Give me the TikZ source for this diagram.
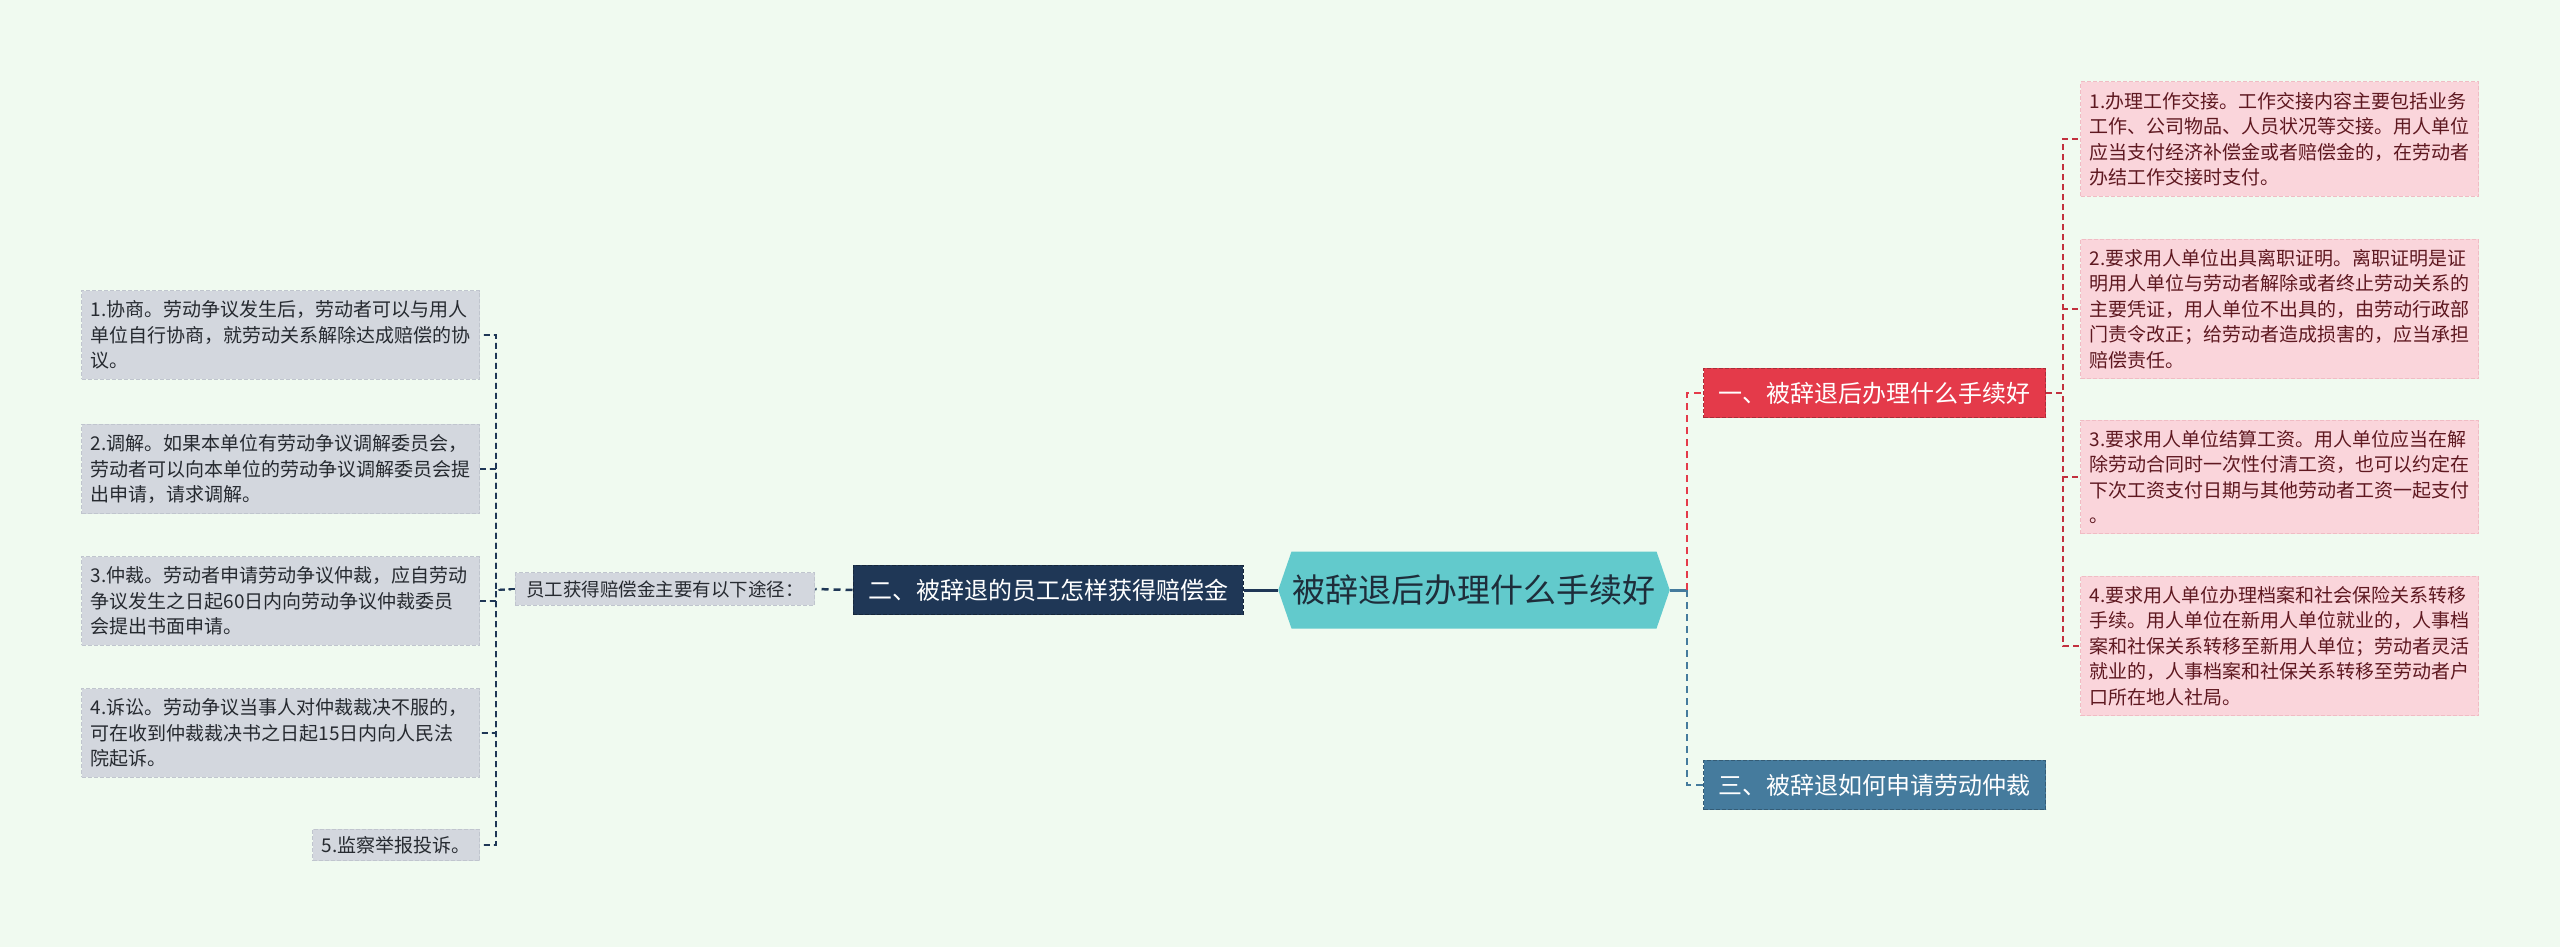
\documentclass[tikz,border=0pt]{standalone}
\usepackage{fontspec}
\setmainfont{Noto Sans CJK SC}
\usetikzlibrary{shapes.symbols}

\definecolor{bgmint}{HTML}{F0FAF0}
\definecolor{rootteal}{HTML}{62CACC}
\definecolor{roottext}{HTML}{1E2D3A}
\definecolor{navy}{HTML}{1F3756}
\definecolor{redtopic}{HTML}{E43A4A}
\definecolor{bluetopic}{HTML}{457B9D}
\definecolor{pinkleaf}{HTML}{FAD5DB}
\definecolor{pinkedge}{HTML}{F0BCC4}
\definecolor{pinktext}{HTML}{5E1820}
\definecolor{greyleaf}{HTML}{D3D7DE}
\definecolor{greyedge}{HTML}{C0C5CE}
\definecolor{greytext}{HTML}{262A30}

\begin{document}
\begin{tikzpicture}[x=1pt,y=-1pt,
  topic/.style={draw,dash pattern=on 4pt off 2pt,line width=1pt,text=white,
    font=\fontsize{24}{29}\selectfont,inner xsep=15pt,inner ysep=13.5pt},
  leaf/.style={draw,dash pattern=on 4pt off 2pt,line width=1pt,align=left,
    font=\fontsize{19}{25.5}\selectfont,inner xsep=9pt,inner ysep=10pt},
  leafpink/.style={leaf,fill=pinkleaf,draw=pinkedge,text=pinktext,text width=380pt},
  leafgrey/.style={leaf,fill=greyleaf,draw=greyedge,text=greytext},
  link/.style={line width=2.5pt,dash pattern=on 7pt off 5pt},
  twig/.style={line width=1.6pt,dash pattern=on 6pt off 4pt}]

\fill[bgmint] (0,0) rectangle (2560,947);
\useasboundingbox (0,0) rectangle (2560,947);

% centre
\node (root) [signal,signal to=west and east,signal pointer angle=142,
  fill=rootteal,text=roottext,font=\fontsize{33}{39}\selectfont,
  minimum width=391pt,minimum height=77pt,inner xsep=1pt] at (1474,590)
  {被辞退后办理什么手续好};

% topics
\node (comp) [topic,fill=navy,draw=navy!70!black] at (1048,590)
  {二、被辞退的员工怎样获得赔偿金};
\node (steps) [topic,fill=redtopic,draw=redtopic!75!black,anchor=west] at (1703,393)
  {一、被辞退后办理什么手续好};
\node (arbit) [topic,fill=bluetopic,draw=bluetopic!75!black,anchor=west] at (1703,785)
  {三、被辞退如何申请劳动仲裁};
\node (ways) [leaf,fill=greyleaf,draw=greyedge,text=greytext,
  font=\fontsize{18.5}{22}\selectfont,inner xsep=11pt,inner ysep=7.5pt] at (665,589)
  {员工获得赔偿金主要有以下途径：};

% right leaves
\node (s1) [leafpink,anchor=west] at (2080,139)
  {1.办理工作交接。工作交接内容主要包括业务\\工作、公司物品、人员状况等交接。用人单位\\应当支付经济补偿金或者赔偿金的，在劳动者\\办结工作交接时支付。};
\node (s2) [leafpink,anchor=west] at (2080,309)
  {2.要求用人单位出具离职证明。离职证明是证\\明用人单位与劳动者解除或者终止劳动关系的\\主要凭证，用人单位不出具的，由劳动行政部\\门责令改正；给劳动者造成损害的，应当承担\\赔偿责任。};
\node (s3) [leafpink,anchor=west] at (2080,477)
  {3.要求用人单位结算工资。用人单位应当在解\\除劳动合同时一次性付清工资，也可以约定在\\下次工资支付日期与其他劳动者工资一起支付\\。};
\node (s4) [leafpink,anchor=west] at (2080,646)
  {4.要求用人单位办理档案和社会保险关系转移\\手续。用人单位在新用人单位就业的，人事档\\案和社保关系转移至新用人单位；劳动者灵活\\就业的，人事档案和社保关系转移至劳动者户\\口所在地人社局。};

% left leaves
\node (w1) [leafgrey,text width=380pt,anchor=east] at (480,335)
  {1.协商。劳动争议发生后，劳动者可以与用人\\单位自行协商，就劳动关系解除达成赔偿的协\\议。};
\node (w2) [leafgrey,text width=380pt,anchor=east] at (480,469)
  {2.调解。如果本单位有劳动争议调解委员会，\\劳动者可以向本单位的劳动争议调解委员会提\\出申请，请求调解。};
\node (w3) [leafgrey,text width=380pt,anchor=east] at (480,601)
  {3.仲裁。劳动者申请劳动争议仲裁，应自劳动\\争议发生之日起60日内向劳动争议仲裁委员\\会提出书面申请。};
\node (w4) [leafgrey,text width=380pt,anchor=east] at (480,733)
  {4.诉讼。劳动争议当事人对仲裁裁决不服的，\\可在收到仲裁裁决书之日起15日内向人民法\\院起诉。};
\node (w5) [leafgrey,anchor=east,inner ysep=7pt] at (480,845)
  {5.监察举报投诉。};

% connectors
\coordinate (rk) at (1687,590);
\coordinate (sk) at (2063,393);
\coordinate (wk) at (496,590);

\draw[navy,line width=3pt] (root.west) -- (comp.east);
\draw[navy,link] (comp.west) -- (ways.east);
\draw[bluetopic,line width=3pt] (root.east) -- (rk);
\draw[redtopic,link] (rk) |- (steps.west);
\draw[bluetopic,link] (rk) |- (arbit.west);
\foreach \s in {s1,s2,s3,s4}
  \draw[redtopic!85!black,twig] (steps.east) -- (sk) |- (\s.west);
\foreach \w in {w1,w2,w3,w4,w5}
  \draw[navy,twig] (ways.west) -- (wk) |- (\w.east);
\end{tikzpicture}
\end{document}
